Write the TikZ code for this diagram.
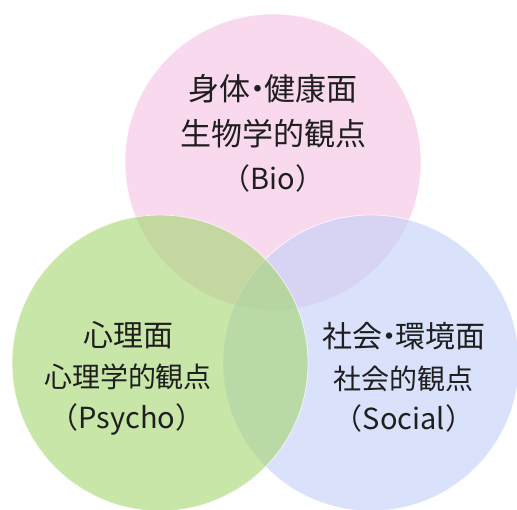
\documentclass[tikz,border=0pt]{standalone}
\usepackage{fontspec}
\newfontfamily\jpfont{Noto Sans CJK JP}
\newcommand{\ndot}{\kern-0.27em・\kern-0.27em}
\definecolor{pinkc}{RGB}{245,192,227}
\definecolor{greenc}{RGB}{163,213,110}
\definecolor{bluec}{RGB}{192,207,247}
\tikzset{
  venn/.style={circle, fill opacity=0.6, draw=white, draw opacity=0.7, line width=0.8pt, minimum size=296pt, inner sep=0pt},
  lab/.style={anchor=base, inner sep=0pt, text=black!88, font=\jpfont}
}
\begin{document}
\begin{tikzpicture}[x=1pt,y=-1pt]
\useasboundingbox (0,0) rectangle (517,510);
\node[venn, fill=pinkc] (bio) at (273,162) {};
\node[venn, fill=bluec] (soc) at (371,363) {};
\node[venn, fill=greenc] (psy) at (160,363) {};
% Bio
\node[lab, font=\jpfont\fontsize{31}{31}\selectfont] (b1) at (273,101) {身体\ndot 健康面};
\node[lab, font=\jpfont\fontsize{31}{31}\selectfont] (b2) at (273,146) {生物学的観点};
\node[lab, font=\jpfont\fontsize{29}{29}\selectfont] (b3) at (273,190) {（Bio）};
% Psycho
\node[lab, font=\jpfont\fontsize{30}{30}\selectfont] (p1) at (128,347) {心理面};
\node[lab, font=\jpfont\fontsize{28}{28}\selectfont] (p2) at (128,388) {心理学的観点};
\node[lab, font=\jpfont\fontsize{29}{29}\selectfont] (p3) at (127,429) {（Psycho）};
% Social
\node[lab, font=\jpfont\fontsize{30}{30}\selectfont] (s1) at (404,348) {社会\ndot 環境面};
\node[lab, font=\jpfont\fontsize{28}{28}\selectfont] (s2) at (403,390) {社会的観点};
\node[lab, font=\jpfont\fontsize{29}{29}\selectfont] (s3) at (404,430) {（Social）};
\end{tikzpicture}
\end{document}
